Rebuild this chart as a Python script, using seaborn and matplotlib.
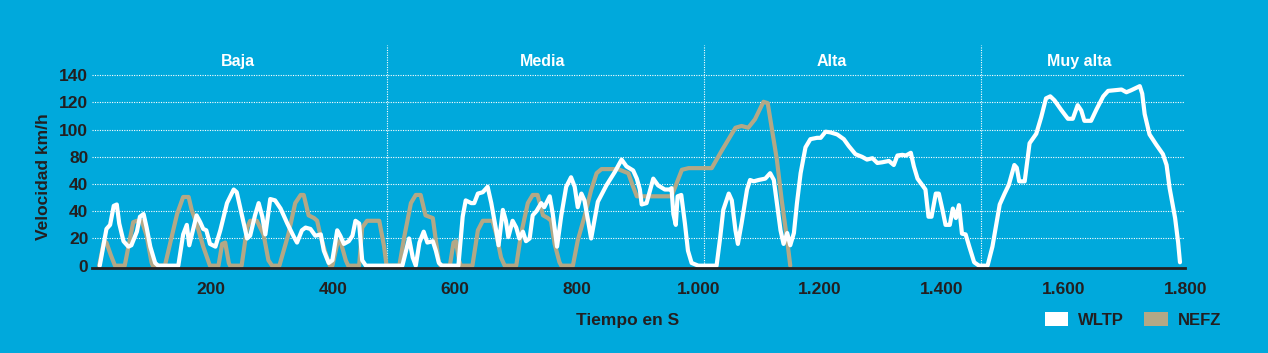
import numpy as np
import pandas as pd
import matplotlib
matplotlib.use("Agg")
import matplotlib.pyplot as plt
import seaborn as sns
from matplotlib.patches import Patch

# ------------------------------
#   Data
# ------------------------------
wltp_t = [17, 28, 34, 40, 45, 49, 56, 64, 69, 78, 83, 89, 94, 100, 108, 113, 146, 154, 160, 164,
          171, 176, 182, 187, 192, 198, 207, 215, 226, 237, 242, 250, 259, 264, 272, 278, 284, 289,
          297, 305, 314, 325, 336, 341, 349, 355, 363, 371, 380, 385, 393, 399, 407, 412, 418, 426,
          432, 437, 443, 448, 454, 514, 520, 525, 531, 536, 542, 549, 555, 564, 569, 574, 579, 606,
          613, 618, 627, 632, 638, 646, 654, 660, 668, 672, 679, 684, 688, 695, 701, 706, 712, 717,
          723, 728, 734, 742, 747, 756, 761, 768, 775, 783, 791, 797, 802, 808, 813, 819, 824, 835,
          849, 863, 874, 882, 893, 899, 904, 907, 915, 926, 934, 945, 953, 956, 959, 963, 966, 972,
          978, 983, 989, 1000, 1030, 1036, 1041, 1050, 1055, 1061, 1065, 1071, 1080, 1085, 1091,
          1099, 1110, 1118, 1124, 1129, 1135, 1140, 1146, 1151, 1157, 1162, 1168, 1176, 1184, 1195,
          1201, 1209, 1217, 1228, 1239, 1247, 1258, 1269, 1277, 1286, 1294, 1302, 1313, 1321, 1327,
          1335, 1341, 1349, 1354, 1360, 1368, 1373, 1378, 1383, 1390, 1395, 1401, 1406, 1413, 1418,
          1423, 1428, 1433, 1439, 1445, 1453, 1461, 1475, 1483, 1490, 1495, 1503, 1510, 1519, 1523,
          1527, 1536, 1544, 1555, 1563, 1571, 1578, 1585, 1596, 1607, 1615, 1623, 1629, 1634, 1645,
          1654, 1665, 1673, 1684, 1695, 1703, 1711, 1725, 1729, 1733, 1741, 1752, 1763, 1769, 1774,
          1783, 1788, 1791]
wltp_v = [0, 27, 30, 44, 45, 31, 18, 14, 15, 25, 36, 38, 28, 14, 2, 0, 0, 23, 30, 15,
          28, 37, 32, 27, 26, 16, 14, 26, 46, 56, 54, 38, 20, 22, 37, 46, 36, 23,
          49, 48, 42, 31, 21, 17, 26, 28, 27, 22, 23, 11, 2, 4, 26, 22, 16, 18,
          22, 33, 31, 4, 0, 0, 11, 20, 6, 0, 17, 25, 17, 18, 11, 2, 0, 0,
          36, 48, 46, 46, 53, 54, 58, 46, 26, 15, 41, 33, 21, 33, 28, 20, 25, 18,
          20, 37, 40, 46, 43, 51, 38, 14, 37, 58, 65, 58, 43, 53, 48, 33, 20, 47,
          59, 69, 78, 73, 70, 64, 56, 45, 46, 64, 59, 56, 56, 57, 38, 30, 51, 52,
          31, 11, 2, 0, 0, 21, 41, 53, 48, 26, 16, 31, 56, 63, 62,
          63, 64, 68, 63, 46, 26, 16, 24, 15, 24, 46, 68, 87, 93, 94,
          94, 98.5, 98, 96.5, 93, 88, 82, 80, 78, 79, 75.5, 76, 77, 74, 81,
          81.5, 81, 83, 73, 64, 59, 56, 36, 36, 53, 53, 41, 30, 30, 42,
          35, 44.5, 23.5, 23, 14, 2.5, 0, 0, 14, 32, 45, 53, 59.5, 74, 72,
          62, 62, 90, 97, 109, 123, 124.5, 121.5, 114.5, 108, 108, 118, 114, 106.5, 106.5,
          115, 124.5, 128.5, 129, 129.5, 127.5, 129, 132, 126.5, 111.5, 96.5, 89, 82, 74, 57,
          35, 17, 2.5]

nefz_t = [16, 24, 28, 35, 42, 58, 72, 78, 86, 94, 102, 104, 124, 144, 154, 163, 168, 176, 187,
          196, 198, 212, 218, 223, 229, 231, 250, 259, 264, 275, 286, 294, 300, 312, 327, 338, 347,
          352, 360, 369, 374, 380, 388, 395, 399, 407, 412, 421, 425, 443, 448, 456, 476, 484, 488,
          509, 517, 528, 536, 544, 552, 564, 569, 574, 577, 592, 598, 602, 607, 610, 629, 638, 646,
          662, 668, 676, 682, 701, 709, 720, 728, 736, 745, 753, 758, 764, 772, 775, 794, 802, 813,
          824, 833, 841, 868, 885, 893, 899, 956, 973, 984, 1022, 1039, 1061, 1071, 1082, 1093,
          1107, 1114, 1121, 1129, 1137, 1146, 1151]
nefz_v = [0, 18, 17, 8, 0, 0, 32, 33, 33, 22, 2.5, 0, 0, 38, 50.5, 50.5, 41, 31, 14,
          2.5, 0, 0, 16, 17, 2, 0, 0, 28, 33, 33, 23, 4, 0, 0, 23.5, 46, 52,
          52, 37, 35, 33, 21, 9, 0, 0, 16, 18.5, 4, 0, 0, 28, 33, 33, 14, 0,
          0, 21, 46, 52, 52, 37, 35, 18.5, 2.5, 0, 0, 17, 18, 4, 0, 0, 26, 33,
          33, 23.5, 6, 0, 0, 23.5, 46, 52, 52, 37, 35, 33, 16, 2.5, 0, 0, 18.5, 36,
          55.6, 68, 71, 71, 68, 58, 51, 51, 70.5, 71.7, 71.7, 85, 101.4, 102.7, 101.4, 107.6,
          120.5, 119.5, 100, 78, 48, 18.5, 0]

phases = ["Baja", "Media", "Alta", "Muy alta"]
phase_bounds = [488, 1009, 1465]
phase_label_t = [244, 745, 1219, 1626]

y_ticks = [0, 20, 40, 60, 80, 100, 120, 140]
y_tick_labels = ["0", "20", "40", "40", "80", "100", "120", "140"]
x_ticks = [200, 400, 600, 800, 1000, 1200, 1400, 1600, 1800]
x_tick_labels = ["200", "400", "600", "800", "1.000", "1.200", "1.400", "1.600", "1.800"]

wltp = pd.DataFrame({"t": wltp_t, "v": wltp_v})
nefz = pd.DataFrame({"t": nefz_t, "v": nefz_v})

# ------------------------------
#   Style
# ------------------------------
bg = "#00a9dc"
tan = "#b3a886"
dark = "#231f20"

sns.set_style("ticks")
plt.rcParams["font.family"] = ["Liberation Sans", "DejaVu Sans"]

fig = plt.figure(figsize=(12.68, 3.53), dpi=100, facecolor=bg)
ax = fig.add_axes([0.0729, 0.2416, 0.862, 0.63])
ax.set_facecolor(bg)

sns.lineplot(data=nefz, x="t", y="v", color=tan, lw=3.0, ax=ax, zorder=2)
sns.lineplot(data=wltp, x="t", y="v", color="white", lw=3.0, ax=ax, zorder=3)

ax.set_xlim(5, 1800)
ax.set_ylim(-1.5, 162)

# dotted grid
for yv in y_ticks[1:]:
    ax.axhline(yv, color="white", lw=0.8, ls=(0, (1, 1.2)), zorder=1)
ax.vlines(phase_bounds, -1.5, 162, colors="white", lw=0.8, linestyles=[(0, (1, 1.2))], zorder=1)

for name, tx in zip(phases, phase_label_t):
    ax.text(tx, 150, name, color="white", fontsize=11.5, ha="center", va="center",
            fontweight="bold")

ax.set_yticks(y_ticks)
ax.set_yticklabels(y_tick_labels)
ax.set_xticks(x_ticks)
ax.set_xticklabels(x_tick_labels)
ax.tick_params(axis="both", length=0, labelsize=12.5, labelcolor=dark)
ax.tick_params(axis="y", pad=3)
ax.tick_params(axis="x", pad=10)
for lab in ax.get_xticklabels() + ax.get_yticklabels():
    lab.set_fontweight("bold")

for s in ["top", "right", "left"]:
    ax.spines[s].set_visible(False)
ax.spines["bottom"].set_color(dark)
ax.spines["bottom"].set_linewidth(2)
ax.spines["bottom"].set_zorder(4)

ax.set_xlabel("")
ax.set_ylabel("")
fig.text(43 / 1268, 1 - 177 / 353, "Velocidad km/h", rotation=90, ha="center", va="center",
         fontsize=12.5, fontweight="bold", color=dark)
fig.text(628 / 1268, 1 - 321 / 353, "Tiempo en S", ha="center", va="center",
         fontsize=12.5, fontweight="bold", color=dark)

handles = [Patch(facecolor="white", edgecolor="none"), Patch(facecolor=tan, edgecolor="none")]
fig.legend(handles, ["WLTP", "NEFZ"], ncol=2, frameon=False, loc="center left",
           bbox_to_anchor=(1045 / 1268, 1 - 320 / 353), borderpad=0, borderaxespad=0,
           handlelength=1.4, handleheight=0.9, handletextpad=0.6, columnspacing=1.2,
           prop={"size": 12, "weight": "bold"}, labelcolor=dark)

fig.savefig("out.png", dpi=100, facecolor=bg)
